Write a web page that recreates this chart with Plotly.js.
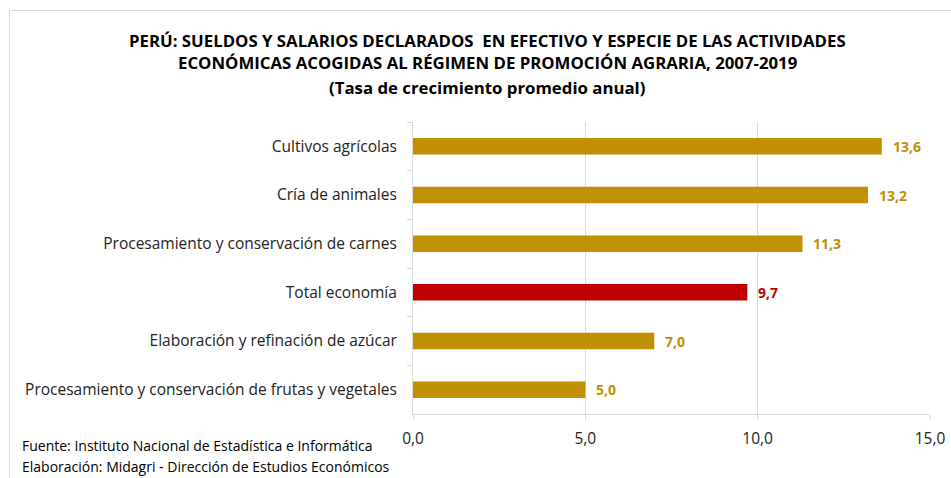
<!DOCTYPE html>
<html>
<head>
<meta charset="utf-8">
<script src="https://cdn.plot.ly/plotly-3.0.1.min.js"></script>
<style>
html,body{margin:0;padding:0;background:#fff;}
#chart{width:951px;height:478px;}
</style>
</head>
<body>
<div id="chart"></div>
<script>
const categories = [
  "Cultivos agrícolas",
  "Cría de animales",
  "Procesamiento y conservación de carnes",
  "Total economía",
  "Elaboración y refinación de azúcar",
  "Procesamiento y conservación de frutas y vegetales"
];
const values = [13.6, 13.2, 11.3, 9.7, 7.0, 5.0];
const barColors = ["#BF9000", "#BF9000", "#BF9000", "#C00000", "#BF9000", "#BF9000"];
const xTickValues = [0, 5, 10, 15];
const titleLines = [
  "PERÚ: SUELDOS Y SALARIOS DECLARADOS  EN EFECTIVO Y ESPECIE DE LAS ACTIVIDADES",
  "ECONÓMICAS ACOGIDAS AL RÉGIMEN DE PROMOCIÓN AGRARIA, 2007-2019",
  "(Tasa de crecimiento promedio anual)"
];
const footnotes = [
  "Fuente: Instituto Nacional de Estadística e Informática",
  "Elaboración: Midagri - Dirección de Estudios Económicos"
];

const W = 951, H = 478;
const M = {l: 413, r: 21, t: 122, b: 64};
const pw = W - M.l - M.r, ph = H - M.t - M.b;
const px = x => (x - M.l) / pw;
const py = y => (H - M.b - y) / ph;

const fmt = v => v.toFixed(1).replace('.', ',');

const trace = {
  type: 'bar',
  orientation: 'h',
  y: categories,
  x: values,
  marker: {color: barColors, line: {width: 0}},
  hoverinfo: 'x+y'
};

const annotations = [];
values.forEach((v, i) => {
  annotations.push({
    x: v, y: categories[i], xref: 'x', yref: 'y',
    text: '<b>' + fmt(v) + '</b>',
    showarrow: false, xanchor: 'left', xshift: 9,
    font: {family: 'Open Sans', size: 14, color: barColors[i]}
  });
});
titleLines.forEach((t, i) => {
  annotations.push({
    x: px(487), y: py([40, 63, 87][i]), xref: 'paper', yref: 'paper',
    text: '<b>' + t + '</b>', showarrow: false, xanchor: 'center', yanchor: 'middle',
    font: {family: 'Open Sans', size: 16.8, color: '#000'}
  });
});
footnotes.forEach((t, i) => {
  annotations.push({
    x: px(22), y: py([445, 466][i]), xref: 'paper', yref: 'paper',
    text: t, showarrow: false, xanchor: 'left', yanchor: 'middle', xshift: -2,
    font: {family: 'Open Sans', size: 14, color: '#000'}
  });
});

const layout = {
  width: W, height: H,
  margin: M,
  paper_bgcolor: '#fff', plot_bgcolor: '#fff',
  showlegend: false,
  separators: ',.',
  bargap: 0.66,
  font: {family: 'Open Sans', color: '#222'},
  xaxis: {
    range: [0, 15],
    tickvals: xTickValues,
    tickformat: '.1f',
    showgrid: true, gridcolor: '#D9D9D9', gridwidth: 1,
    zeroline: false,
    showline: true, linecolor: '#D9D9D9', linewidth: 1,
    ticks: 'outside', ticklen: 5, tickcolor: '#D9D9D9',
    ticklabelstandoff: 5,
    tickfont: {family: 'Open Sans', size: 15.5, color: '#222'},
    fixedrange: true
  },
  yaxis: {
    type: 'category',
    autorange: 'reversed',
    showgrid: false, zeroline: false,
    showline: true, linecolor: '#D9D9D9', linewidth: 1,
    ticks: 'outside', ticklen: 5, tickcolor: '#D9D9D9',
    tickson: 'boundaries',
    ticklabelstandoff: 12,
    tickfont: {family: 'Open Sans', size: 15.5, color: '#222'},
    fixedrange: true
  },
  shapes: [{
    type: 'rect', xref: 'paper', yref: 'paper',
    x0: px(9.5), x1: px(990), y0: py(520), y1: py(10.5),
    line: {color: '#D9D9D9', width: 1}, fillcolor: 'rgba(0,0,0,0)', layer: 'below'
  }],
  annotations: annotations
};

Plotly.newPlot('chart', [trace], layout, {displayModeBar: false, staticPlot: true});
</script>
</body>
</html>
